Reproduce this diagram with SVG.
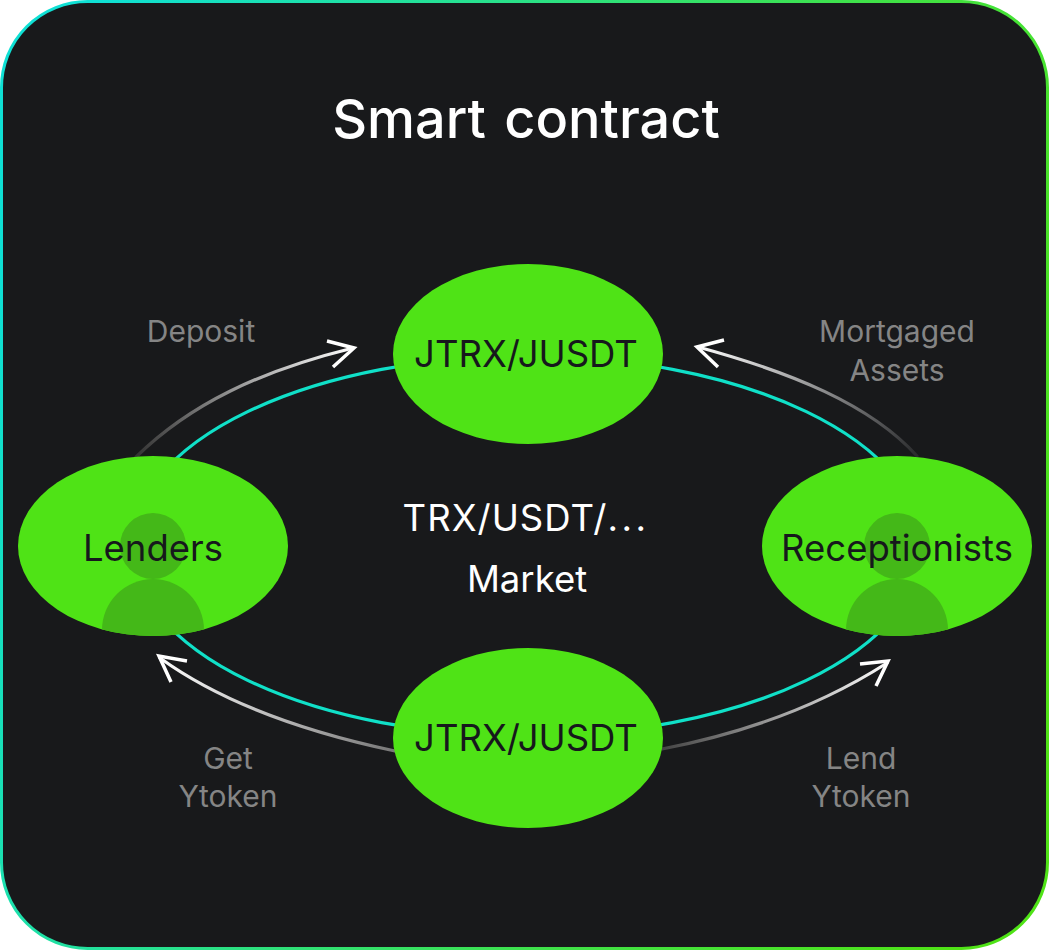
<svg xmlns="http://www.w3.org/2000/svg" width="1050" height="951" viewBox="0 0 1050 951">
<style>
text{font-family:"Inter","Liberation Sans",sans-serif;text-anchor:middle}
.node{fill:#4fe316}
.dark{fill:#44b818}
.nl{font-size:36.5px;fill:#16181c}
.gl{font-size:30px;fill:#858585}
.wl{font-size:36.5px;fill:#ffffff}
.arr{fill:none;stroke-width:3.2;stroke-linecap:round;stroke-linejoin:miter}
.head{fill:none;stroke:#ffffff;stroke-width:3.5}
</style>
<defs>
<linearGradient id="border" gradientUnits="userSpaceOnUse" x1="0" y1="300" x2="1050" y2="650"><stop offset="0" stop-color="#0fe0d4"/><stop offset="0.65" stop-color="#3fe24a"/><stop offset="1" stop-color="#4fe316"/></linearGradient>
<linearGradient id="g1" gradientUnits="userSpaceOnUse" x1="136" y1="457" x2="355" y2="348"><stop offset="0" stop-color="#333"/><stop offset="1" stop-color="#fff"/></linearGradient>
<linearGradient id="g2" gradientUnits="userSpaceOnUse" x1="917" y1="456" x2="696" y2="347"><stop offset="0" stop-color="#2a2b2d"/><stop offset="1" stop-color="#fff"/></linearGradient>
<linearGradient id="g3" gradientUnits="userSpaceOnUse" x1="662" y1="749" x2="889" y2="661"><stop offset="0" stop-color="#444"/><stop offset="1" stop-color="#fff"/></linearGradient>
<linearGradient id="g4" gradientUnits="userSpaceOnUse" x1="395" y1="751" x2="158" y2="656"><stop offset="0" stop-color="#777"/><stop offset="1" stop-color="#fff"/></linearGradient>
<clipPath id="cl"><ellipse cx="153" cy="546" rx="135" ry="90"/></clipPath>
<clipPath id="cr"><ellipse cx="897" cy="546" rx="135" ry="90"/></clipPath>
</defs>
<rect x="0" y="0" width="1050" height="951" fill="#ffffff"/>
<rect id="panel" x="1.5" y="1.5" width="1046" height="947" rx="86" ry="86" fill="#18191b" stroke="url(#border)" stroke-width="3"/>
<text id="title" x="526" y="138" style="font-size:54px;font-weight:500;word-spacing:4px;fill:#fff">Smart contract</text>
<g id="connectors">
<ellipse cx="527" cy="546" rx="395" ry="190" fill="none" stroke="#10e0c8" stroke-width="3.2"/>
<path class="arr" stroke="url(#g1)" d="M136 457C190 404 260 371 353 348"/>
<path class="head" d="M327 341L354 348L333 367"/>
<path class="arr" stroke="url(#g2)" d="M917 456C870 404 790 372 698 347"/>
<path class="head" d="M724 340L697 347L718 367"/>
<path class="arr" stroke="url(#g3)" d="M662 749C745 733 820 706 887 663"/>
<path class="head" d="M860 664L888 661L876 686"/>
<path class="arr" stroke="url(#g4)" d="M395 751C310 733 225 705 160 658"/>
<path class="head" d="M187 661L159 656L171 682"/>
</g>
<g id="node-lenders">
<ellipse class="node" cx="153" cy="546" rx="135" ry="90"/>
<circle class="dark" cx="153" cy="546" r="33"/>
<circle class="dark" cx="153" cy="630" r="51" clip-path="url(#cl)"/>
<text class="nl" x="153" y="561">Lenders</text>
</g>
<g id="node-receptionists">
<ellipse class="node" cx="897" cy="546" rx="135" ry="90"/>
<circle class="dark" cx="897" cy="546" r="33"/>
<circle class="dark" cx="897" cy="630" r="51" clip-path="url(#cr)"/>
<text class="nl" x="897" y="561">Receptionists</text>
</g>
<g id="node-top">
<ellipse class="node" cx="528" cy="354" rx="135" ry="90"/>
<text class="nl" x="526" y="367">JTRX/JUSDT</text>
</g>
<g id="node-bottom">
<ellipse class="node" cx="528" cy="738" rx="135" ry="90"/>
<text class="nl" x="526" y="751">JTRX/JUSDT</text>
</g>
<g id="labels">
<text class="wl" x="526" y="531" style="letter-spacing:1px">TRX/USDT/<tspan style="letter-spacing:3.5px">...</tspan></text>
<text class="wl" x="527" y="592">Market</text>
<text class="gl" x="201" y="342">Deposit</text>
<text class="gl" x="897" y="342">Mortgaged</text>
<text class="gl" x="897" y="381">Assets</text>
<text class="gl" x="228" y="769">Get</text>
<text class="gl" x="228" y="807">Ytoken</text>
<text class="gl" x="861" y="769">Lend</text>
<text class="gl" x="861" y="807">Ytoken</text>
</g>
</svg>
